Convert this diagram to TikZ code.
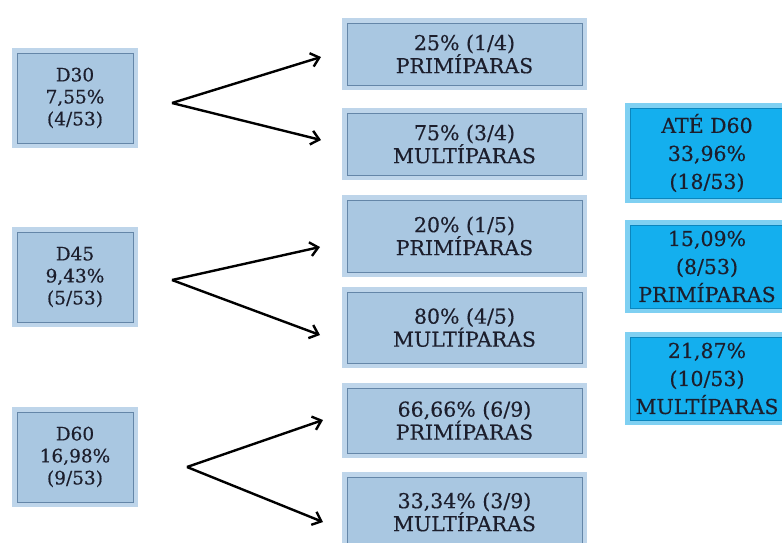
\documentclass[tikz,border=0pt]{standalone}
\usepackage{fontspec}
\setmainfont[FakeBold=0.4]{DejaVu Serif}
\usetikzlibrary{arrows.meta}

\definecolor{azulclaro}{HTML}{A9C7E1}
\definecolor{halo}{HTML}{BED5EA}
\definecolor{borda}{HTML}{6486A8}
\definecolor{azulforte}{HTML}{14AFEE}
\definecolor{haloforte}{HTML}{7FD0F2}
\definecolor{bordaforte}{HTML}{0B86BE}
\definecolor{texto}{HTML}{1C1E2C}

\begin{document}
\begin{tikzpicture}[x=1pt, y=-1pt,
    caixa/.style={rectangle, draw=borda, line width=0.8pt, fill=azulclaro,
        preaction={draw=halo, line width=10pt},
        inner sep=0pt, align=center, text=texto, minimum width=235pt},
    dia/.style={caixa, minimum width=116pt, minimum height=90pt,
        font=\fontsize{18.5}{22}\selectfont},
    grupo/.style={caixa, font=\fontsize{20.5}{23}\selectfont},
    total/.style={caixa, fill=azulforte, draw=bordaforte,
        preaction={draw=haloforte, line width=10pt},
        minimum width=154pt, font=\fontsize{20.5}{28}\selectfont},
    seta/.style={-{Straight Barb[length=8pt, width=14pt]}, line width=2.4pt}]
    \useasboundingbox (0,0) rectangle (782,542);
    \clip (0,0) rectangle (782,542);

    \node[dia] (D30) at (75, 98)  {D30\\7,55\%\\(4/53)};
    \node[dia] (D45) at (75, 277) {D45\\9,43\%\\(5/53)};
    \node[dia] (D60) at (75, 457) {D60\\16,98\%\\(9/53)};

    \node[grupo, minimum height=62pt] (P30) at (464.5, 54)    {25\% (1/4)\\PRIMÍPARAS};
    \node[grupo, minimum height=62pt] (M30) at (464.5, 144)   {75\% (3/4)\\MULTÍPARAS};
    \node[grupo, minimum height=72pt] (P45) at (464.5, 236)   {20\% (1/5)\\PRIMÍPARAS};
    \node[grupo, minimum height=71pt] (M45) at (464.5, 327.5) {80\% (4/5)\\MULTÍPARAS};
    \node[grupo, minimum height=65pt] (P60) at (464.5, 420.5) {66,66\% (6/9)\\PRIMÍPARAS};
    \node[grupo, minimum height=70pt] (M60) at (464.5, 512)   {33,34\% (3/9)\\MULTÍPARAS};

    \node[total, minimum height=90pt] (T60) at (707, 153)   {ATÉ D60\\33,96\%\\(18/53)};
    \node[total, minimum height=83pt] (TP)  at (707, 266.5) {15,09\%\\(8/53)\\PRIMÍPARAS};
    \node[total, minimum height=83pt] (TM)  at (707, 378.5) {21,87\%\\(10/53)\\MULTÍPARAS};

    \coordinate (V30) at (172, 103);
    \coordinate (V45) at (172, 280);
    \coordinate (V60) at (187, 467);
    \coordinate (a30) at (321, 57);
    \coordinate (b30) at (321, 140);
    \coordinate (a45) at (320, 247);
    \coordinate (b45) at (320, 335);
    \coordinate (a60) at (323, 420);
    \coordinate (b60) at (323, 522);

    \draw[seta] (V30) -- (a30);
    \draw[seta] (V30) -- (b30);
    \draw[seta] (V45) -- (a45);
    \draw[seta] (V45) -- (b45);
    \draw[seta] (V60) -- (a60);
    \draw[seta] (V60) -- (b60);
\end{tikzpicture}
\end{document}
